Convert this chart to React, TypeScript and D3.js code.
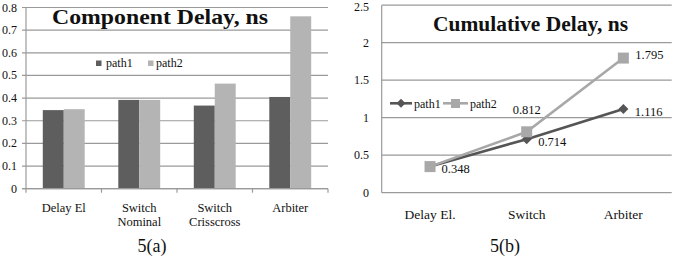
import React from "react";
import * as d3 from "d3";

// component delay (bars)
const components = ["Delay El", "Switch\nNominal", "Switch\nCrisscross", "Arbiter"];
const compPath1 = [0.347, 0.392, 0.367, 0.405];
const compPath2 = [0.351, 0.392, 0.464, 0.761];
const compTicks = [0, 0.1, 0.2, 0.3, 0.4, 0.5, 0.6, 0.7, 0.8];

// cumulative delay (lines)
const stages = ["Delay El.", "Switch", "Arbiter"];
const cumPath1 = [0.348, 0.714, 1.116];
const cumPath2 = [0.348, 0.812, 1.795];
const cumTicks = [0, 0.5, 1, 1.5, 2, 2.5];

const seriesNames = ["path1", "path2"];
const DARK = "#5e5e5e";
const LIGHT = "#b4b4b4";
const LINE1 = "#555555";
const LINE2 = "#a8a8a8";
const GRID = "#9a9a9a";
const FONT = "'Liberation Serif', 'Times New Roman', serif";

const fmtTick = (v: number) => (v === 0 ? "0" : String(v));

const BarChart = () => {
  const y = d3.scaleLinear().domain([0, 0.8]).range([188.7, 7.5]);
  const x0 = d3.scaleBand<string>().domain(components).range([26, 328]).paddingInner(0.445).paddingOuter(0.2225);
  const x1 = d3.scaleBand<string>().domain(seriesNames).range([0, x0.bandwidth()]);
  const step = x0.step();
  const values = [compPath1, compPath2];
  const colors = [DARK, LIGHT];

  return (
    <g>
      {compTicks.map((t) => (
        <g key={t}>
          <line x1={22} x2={328} y1={y(t)} y2={y(t)} stroke={GRID} strokeWidth={1.2} />
          <text x={17} y={Math.max(y(t) + 4, 12)} textAnchor="end" fontSize={12}>{fmtTick(t)}</text>
        </g>
      ))}
      {components.map((c, i) =>
        values.map((vals, s) => (
          <rect
            key={c + s}
            x={x0(c)! + x1(seriesNames[s])!}
            y={y(vals[i])}
            width={x1.bandwidth()}
            height={y(0) - y(vals[i])}
            fill={colors[s]}
          />
        ))
      )}
      <line x1={26} x2={26} y1={y(0.8)} y2={y(0)} stroke={GRID} strokeWidth={1.2} />
      <line x1={22} x2={328} y1={y(0)} y2={y(0)} stroke={GRID} strokeWidth={1.2} />
      {d3.range(components.length + 1).map((i) => (
        <line key={i} x1={26 + i * step} x2={26 + i * step} y1={y(0)} y2={y(0) + 4} stroke={GRID} strokeWidth={1.2} />
      ))}
      {components.map((c) => (
        <text key={c} x={x0(c)! + x0.bandwidth() / 2} y={212} textAnchor="middle" fontSize={12.5}>
          {c.split("\n").map((ln, k) => (
            <tspan key={k} x={x0(c)! + x0.bandwidth() / 2} dy={k === 0 ? 0 : 14}>{ln}</tspan>
          ))}
        </text>
      ))}
      <text x={52} y={24} fontSize={21} fontWeight="bold" textLength={216} lengthAdjust="spacingAndGlyphs">
        Component Delay, ns
      </text>
      {seriesNames.map((n, s) => (
        <g key={n}>
          <rect x={96 + s * 52} y={60.5} width={5.5} height={5.5} fill={colors[s]} />
          <text x={106 + s * 50} y={67} fontSize={12}>{n}</text>
        </g>
      ))}
      <text x={152} y={252} textAnchor="middle" fontSize={18}>5(a)</text>
    </g>
  );
};

const LineChart = () => {
  const y = d3.scaleLinear().domain([0, 2.5]).range([192.7, 5.2]);
  const x = d3.scalePoint<string>().domain(stages).range([381.7, 671.7]).padding(0.5);
  const line = d3
    .line<number>()
    .x((_, i) => x(stages[i])!)
    .y((d) => y(d));
  const diamond = (cx: number, cy: number, r = 5) =>
    `M${cx},${cy - r}L${cx + r},${cy}L${cx},${cy + r}L${cx - r},${cy}Z`;

  return (
    <g>
      {cumTicks.map((t) => (
        <g key={t}>
          <line x1={381.7} x2={671.7} y1={y(t)} y2={y(t)} stroke={GRID} strokeWidth={1.2} />
          <text x={369} y={Math.max(y(t) + 4, 11)} textAnchor="end" fontSize={12}>{fmtTick(t)}</text>
        </g>
      ))}
      <line x1={381.7} x2={381.7} y1={y(2.5)} y2={y(0)} stroke={GRID} strokeWidth={1.2} />
      {stages.map((s) => (
        <text key={s} x={x(s)!} y={219} textAnchor="middle" fontSize={13.5}>{s}</text>
      ))}
      <path d={line(cumPath1)!} fill="none" stroke={LINE1} strokeWidth={2.6} />
      {cumPath1.map((v, i) => (
        <path key={i} d={diamond(x(stages[i])!, y(v))} fill={LINE1} />
      ))}
      <path d={line(cumPath2)!} fill="none" stroke={LINE2} strokeWidth={2.6} />
      {cumPath2.map((v, i) => (
        <rect key={i} x={x(stages[i])! - 5.5} y={y(v) - 5.5} width={11} height={11} fill={LINE2} />
      ))}
      {cumPath1.map((v, i) => (
        <text key={i} x={x(stages[i])! + 11.5} y={y(v) + 6.5} fontSize={12.5}>{v.toFixed(3)}</text>
      ))}
      {cumPath2.map((v, i) =>
        i === 0 ? null : i === 1 ? (
          <text key={i} x={x(stages[i])!} y={y(v) - 18} textAnchor="middle" fontSize={12.5}>{v.toFixed(3)}</text>
        ) : (
          <text key={i} x={x(stages[i])! + 12} y={y(v) + 1} fontSize={12.5}>{v.toFixed(3)}</text>
        )
      )}
      <text x={433} y={31} fontSize={20} fontWeight="bold" textLength={195} lengthAdjust="spacingAndGlyphs">
        Cumulative Delay, ns
      </text>
      <line x1={390} x2={412} y1={103.3} y2={103.3} stroke={LINE1} strokeWidth={2.6} />
      <path d={diamond(401, 103.3, 4.5)} fill={LINE1} />
      <text x={414} y={107.5} fontSize={12}>path1</text>
      <line x1={443} x2={468} y1={103.3} y2={103.3} stroke={LINE2} strokeWidth={2.6} />
      <rect x={451} y={99} width={9} height={9} fill={LINE2} />
      <text x={470} y={107.5} fontSize={12}>path2</text>
      <text x={505} y={252} textAnchor="middle" fontSize={18}>5(b)</text>
    </g>
  );
};

export default function App() {
  return (
    <svg
      width={675}
      height={256}
      style={{ position: "absolute", left: 0, top: 0, background: "#fff" }}
      fontFamily={FONT}
      fill="#111"
    >
      <BarChart />
      <LineChart />
    </svg>
  );
}
